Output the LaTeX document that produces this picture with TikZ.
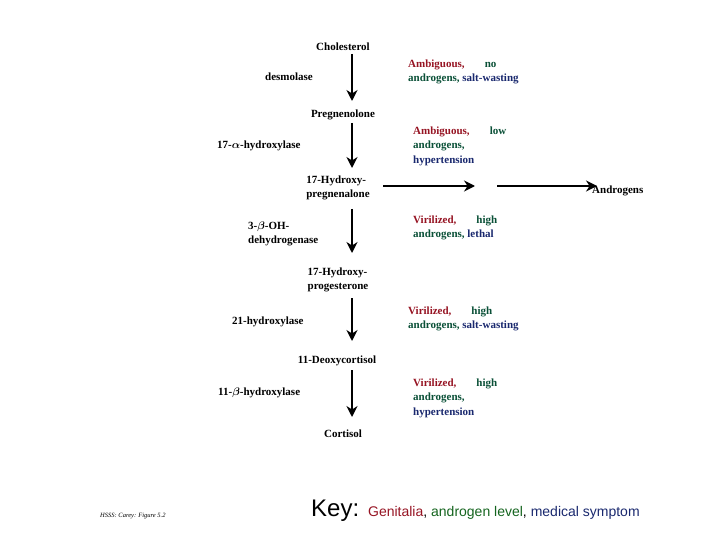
\documentclass[tikz,border=0pt]{standalone}
\usepackage{amsmath}
\usepackage{fontspec}
\setmainfont{Liberation Serif}
\setsansfont{Liberation Sans}
\usetikzlibrary{arrows.meta}
\begin{document}
\definecolor{gred}{RGB}{150,20,35}
\definecolor{ggreen}{RGB}{10,80,55}
\definecolor{gblue}{RGB}{25,40,110}
\definecolor{kgreen}{RGB}{20,100,30}
\begin{tikzpicture}[x=1pt,y=-1pt,
  lbl/.style={font=\bfseries\fontsize{11}{14.5}\selectfont, inner sep=0pt, align=left},
  arr/.style={-{Stealth[length=11pt,width=11pt]}, line width=1.9pt}]
\useasboundingbox (0,0) rectangle (720,540);
\def\R#1{\textcolor{gred}{#1}}
\def\G#1{\textcolor{ggreen}{#1}}
\def\B#1{\textcolor{gblue}{#1}}
\node[lbl] (c0) at (343,47) {Cholesterol};
\node[lbl] (c1) at (343,115) {Pregnenolone};
\node[lbl] (c2) at (338,188) {17-Hydroxy-\\pregnenalone};
\node[lbl] (c3) at (338,280) {17-Hydroxy-\\progesterone};
\node[lbl] (c4) at (337,361) {11-Deoxycortisol};
\node[lbl] (c5) at (343,434) {Cortisol};
\coordinate (a0s) at (352,54); \coordinate (a0e) at (352,101);
\coordinate (a1s) at (352,123); \coordinate (a1e) at (352,168);
\coordinate (a2s) at (352,209); \coordinate (a2e) at (352,253);
\coordinate (a3s) at (352,298); \coordinate (a3e) at (352,341);
\coordinate (a4s) at (352,370); \coordinate (a4e) at (352,417);
\foreach \i in {0,...,4}{\draw[arr] (a\i s) -- (a\i e);}
\node[lbl,anchor=west] (e0) at (265,77) {desmolase};
\node[lbl,anchor=west] (e1) at (217,146) {17-$\boldsymbol\alpha$-hydroxylase};
\node[lbl,anchor=west] (e2) at (248,234) {3-$\boldsymbol\beta$-OH-\\dehydrogenase};
\node[lbl,anchor=west] (e3) at (232,322) {21-hydroxylase};
\node[lbl,anchor=west] (e4) at (218,393) {11-$\boldsymbol\beta$-hydroxylase};
\node[lbl,anchor=west] (s0) at (408,72) {\R{Ambiguous,}\hspace{20pt}\G{no}\\\G{androgens,} \B{salt-wasting}};
\node[lbl,anchor=west] (s1) at (413,146) {\R{Ambiguous,}\hspace{20pt}\G{low}\\\G{androgens,}\\\B{hypertension}};
\node[lbl,anchor=west] (s2) at (413,228) {\R{Virilized,}\hspace{20pt}\G{high}\\\G{androgens,} \B{lethal}};
\node[lbl,anchor=west] (s3) at (408,319) {\R{Virilized,}\hspace{20pt}\G{high}\\\G{androgens,} \B{salt-wasting}};
\node[lbl,anchor=west] (s4) at (413,398) {\R{Virilized,}\hspace{20pt}\G{high}\\\G{androgens,}\\\B{hypertension}};
\node[lbl,anchor=west] (an) at (592,191) {Androgens};
\coordinate (h1s) at (383,186); \coordinate (h1e) at (475,186);
\coordinate (h2s) at (497,186); \coordinate (h2e) at (597,186);
\draw[arr] (h1s) -- (h1e);
\draw[arr] (h2s) -- (h2e);
\node[font=\itshape\fontsize{6.5}{7}\selectfont, anchor=west, inner sep=0pt] (hs) at (100,516) {HSSS: Carey: Figure 5.2};
\node[font=\sffamily, anchor=west, inner sep=0pt] (key) at (311,511) {\fontsize{24}{26}\selectfont Key: \fontsize{14}{16}\selectfont\textcolor{gred}{Genitalia}, \textcolor{kgreen}{androgen level}, \textcolor{gblue}{medical symptom}};
\end{tikzpicture}
\end{document}
